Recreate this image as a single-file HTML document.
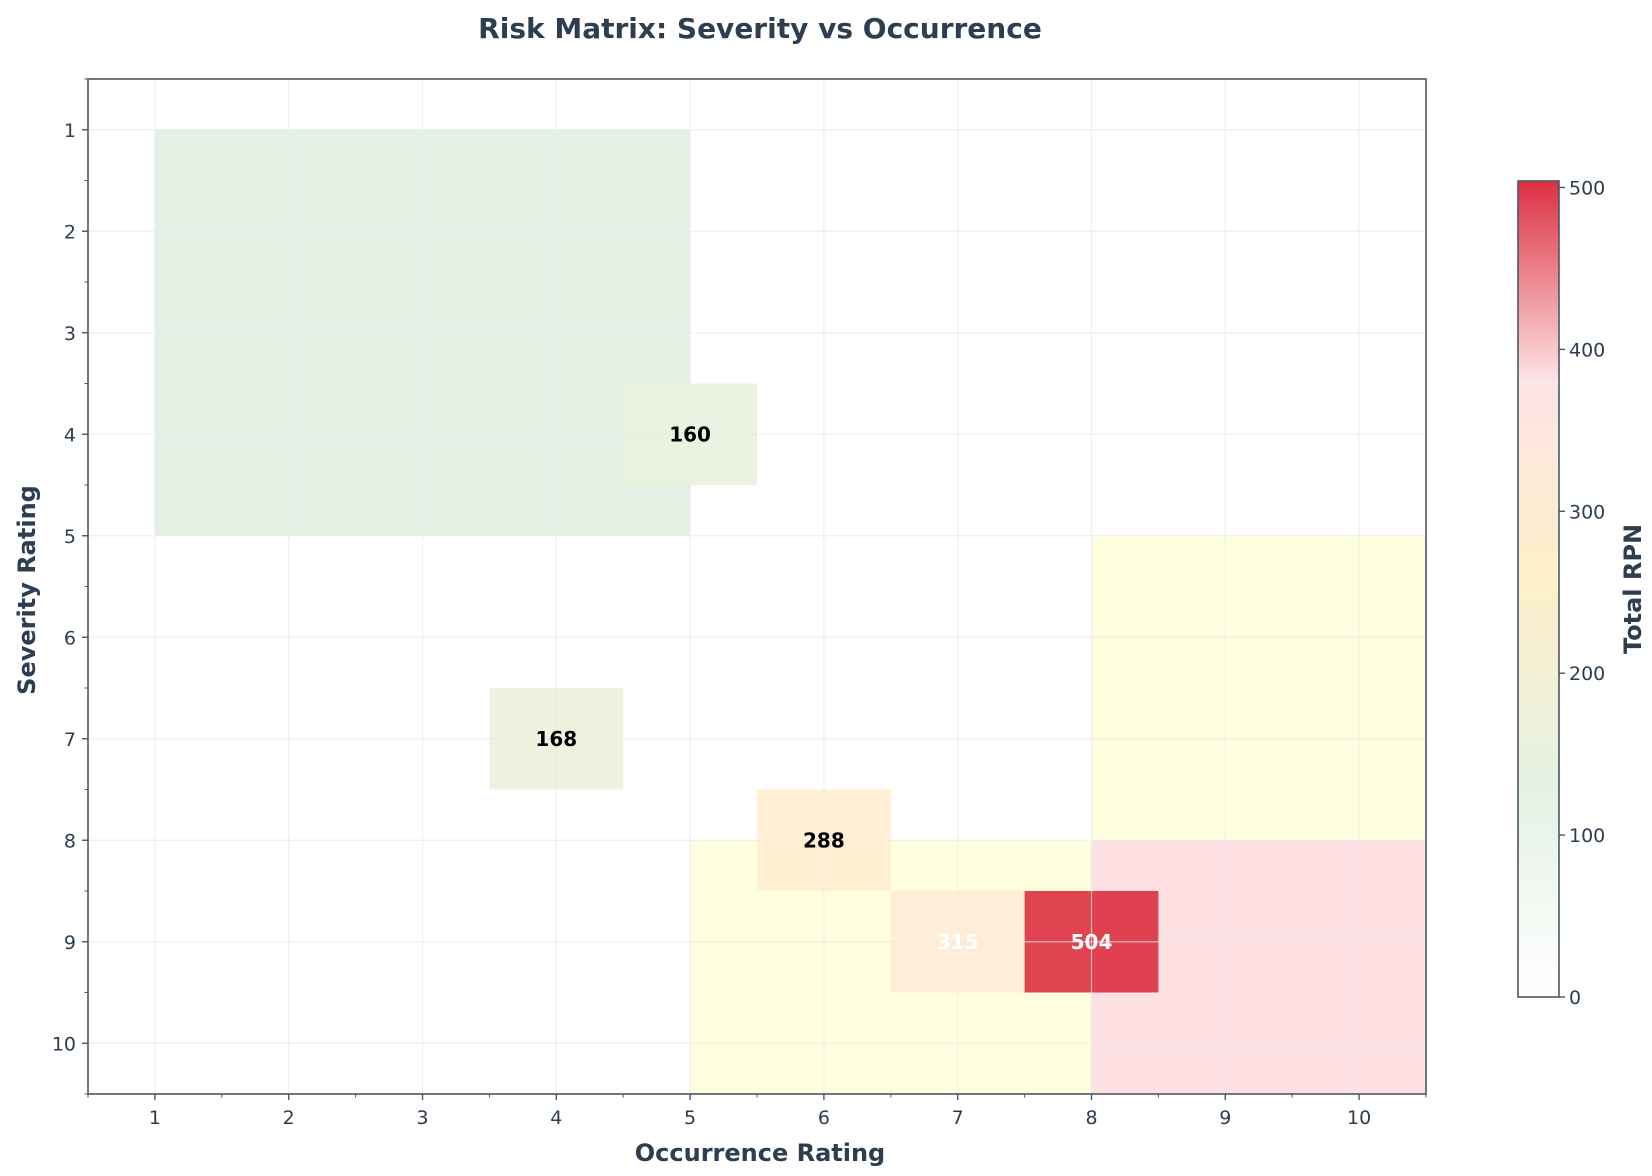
<!DOCTYPE html>
<html><head><meta charset="utf-8"><style>
body{margin:0;background:#fff;}
svg{display:block;font-family:"DejaVu Sans","Liberation Sans",sans-serif;}
</style></head><body>
<svg id="chart" width="1652" height="1176"></svg>
<script>
const occurrence = [5, 4, 6, 7, 8];
const severity = [4, 7, 8, 9, 9];
const rpnValues = [160, 168, 288, 315, 504];
const zoneX0 = [1, 8, 5, 8];
const zoneX1 = [5, 10.5, 8, 10.5];
const zoneY0 = [1, 5, 8, 8];
const zoneY1 = [5, 8, 10.5, 10.5];
const zoneNames = ['low-risk-zone','medium-risk-zone-right','medium-risk-zone-bottom','high-risk-zone'];
const zoneColors = ['#e3f0e3','#ffffe0','#ffffe0','#ffe1e4'];
const xTicks = [1,2,3,4,5,6,7,8,9,10];
const yTicks = [1,2,3,4,5,6,7,8,9,10];
const cbTicks = [0,100,200,300,400,500];
const cbMax = 504;

const NS='http://www.w3.org/2000/svg';
const svg=document.getElementById('chart');
const L=88,R=1426,T=79,B=1094;
const xS=v=>L+(v-0.5)*(R-L)/10;
const yS=v=>T+(v-0.5)*(B-T)/10;
function mk(tag,attrs,parent){const e=document.createElementNS(NS,tag);for(const k in attrs)e.setAttribute(k,attrs[k]);(parent||svg).appendChild(e);return e;}
const stops=[[0,[255,255,255]],[130,[228,241,228]],[260,[255,240,200]],[380,[253,228,230]],[504,[220,48,64]]];
function cmap(v){for(let i=1;i<stops.length;i++){if(v<=stops[i][0]){const a=stops[i-1],b=stops[i];const t=(v-a[0])/(b[0]-a[0]);const c=a[1].map((x,j)=>Math.round(x+(b[1][j]-x)*t));return 'rgb('+c.join(',')+')';}}return 'rgb(220,48,64)';}

for(let i=0;i<zoneX0.length;i++){
  const r=mk('rect',{x:xS(zoneX0[i]),y:yS(zoneY0[i]),width:xS(zoneX1[i])-xS(zoneX0[i]),height:yS(zoneY1[i])-yS(zoneY0[i]),fill:zoneColors[i]});
  
  
}
for(let i=0;i<rpnValues.length;i++){
  const r=mk('rect',{x:xS(occurrence[i]-0.5),y:yS(severity[i]-0.5),width:xS(1.5)-xS(0.5),height:yS(1.5)-yS(0.5),fill:cmap(rpnValues[i]),'fill-opacity':0.9});
  
  
}
for(const t of xTicks){const g=mk('line',{x1:xS(t),x2:xS(t),y1:T,y2:B,stroke:'#e6ebeb','stroke-width':1.2,'stroke-opacity':0.7});}
for(const t of yTicks){const g=mk('line',{x1:L,x2:R,y1:yS(t),y2:yS(t),stroke:'#e6ebeb','stroke-width':1.2,'stroke-opacity':0.7});}
for(let i=0;i<rpnValues.length;i++){
  const tx=mk('text',{x:xS(occurrence[i]),y:yS(severity[i])+7,'text-anchor':'middle','font-size':20,'font-weight':'bold',fill:rpnValues[i]>300?'#fff':'#000'});
  tx.textContent=rpnValues[i];
  
  
}
const fr=mk('rect',{x:L,y:T,width:R-L,height:B-T,fill:'none',stroke:'#4a5866','stroke-width':1.6});

for(const t of xTicks){mk('line',{x1:xS(t),x2:xS(t),y1:B,y2:B+6,stroke:'#4a5866','stroke-width':1.4});
  const tx=mk('text',{x:xS(t),y:B+30,'text-anchor':'middle','font-size':19,fill:'#2c3e50'});tx.textContent=t;
  }
for(let v=0.5;v<=10.5;v+=1){mk('line',{x1:xS(v),x2:xS(v),y1:B,y2:B+3.5,stroke:'#4a5866','stroke-width':1});mk('line',{x1:L-3.5,x2:L,y1:yS(v),y2:yS(v),stroke:'#4a5866','stroke-width':1});}
for(const t of yTicks){mk('line',{x1:L-6,x2:L,y1:yS(t),y2:yS(t),stroke:'#4a5866','stroke-width':1.4});
  const tx=mk('text',{x:L-12,y:yS(t)+7,'text-anchor':'end','font-size':19,fill:'#2c3e50'});tx.textContent=t;
  }
let e=mk('text',{x:760,y:38,'text-anchor':'middle','font-size':28,'font-weight':'bold',fill:'#2c3e50'});e.textContent='Risk Matrix: Severity vs Occurrence';

e=mk('text',{x:760,y:1161,'text-anchor':'middle','font-size':24,'font-weight':'bold',fill:'#2c3e50'});e.textContent='Occurrence Rating';

e=mk('text',{x:0,y:0,'text-anchor':'middle','font-size':24,'font-weight':'bold',fill:'#2c3e50',transform:'translate(35,590) rotate(-90)'});e.textContent='Severity Rating';

const cbL=1518,cbR=1559,cbT=181,cbB=997;
const defs=mk('defs',{});const lg=mk('linearGradient',{id:'cbg',x1:0,y1:1,x2:0,y2:0},defs);
for(const s of stops){mk('stop',{offset:s[0]/cbMax,'stop-color':'rgb('+s[1].join(',')+')'},lg);}
e=mk('rect',{x:cbL,y:cbT,width:cbR-cbL,height:cbB-cbT,fill:'url(#cbg)',stroke:'#4a5866','stroke-width':1.6});

const cbY=v=>cbB-v/cbMax*(cbB-cbT);
for(const t of cbTicks){mk('line',{x1:cbR,x2:cbR+6,y1:cbY(t),y2:cbY(t),stroke:'#4a5866','stroke-width':1.4});
  const tx=mk('text',{x:cbR+10,y:cbY(t)+7,'font-size':19,fill:'#2c3e50'});tx.textContent=t;
  }
e=mk('text',{x:0,y:0,'text-anchor':'middle','font-size':24,'font-weight':'bold',fill:'#2c3e50',transform:'translate(1641,589) rotate(-90)'});e.textContent='Total RPN';

</script>
</body></html>
